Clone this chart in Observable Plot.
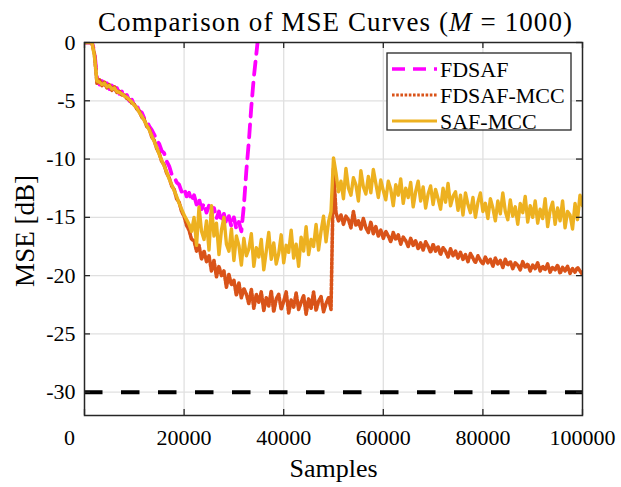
<!DOCTYPE html>
<html>
<head>
<meta charset="utf-8">
<script src="https://cdn.jsdelivr.net/npm/d3@7"></script>
<script src="https://cdn.jsdelivr.net/npm/@observablehq/plot@0.6"></script>
<style>
  html, body { margin: 0; padding: 0; background: white; }
  #chart { width: 621px; height: 487px; }
</style>
</head>
<body>
<div id="chart"></div>
<script>
// ---- Data ----
const titleText = "Comparison of MSE Curves";
const xLabel = "Samples";
const yLabel = "MSE [dB]";
const seriesNames = ["FDSAF", "FDSAF-MCC", "SAF-MCC"];
const seriesColors = ["#FF00FF", "#D95319", "#EDB120"];
const xTicks = [0, 20000, 40000, 60000, 80000, 100000];
const yTicks = [0, -5, -10, -15, -20, -25, -30];
const floorLevel = -30;
const sampleStep = 500;

// FDSAF (magenta, dashed) — samples 0 .. 35000, every 500
const fdsaf = [
  0, 0, 0, 0, -0.8, -3.0, -3.6, -3.3, -3.8, -3.5,
  -4.0, -3.7, -4.2, -3.9, -4.4, -4.2, -4.7, -4.5, -5.0, -4.9,
  -5.4, -5.4, -5.9, -6.0, -6.5, -6.7, -7.2, -7.5, -7.9, -8.4,
  -8.7, -9.3, -9.5, -10.2, -10.6, -11.3, -11.5, -12.0, -12.2, -12.8,
  -12.5, -13.2, -12.9, -13.6, -13.1, -13.9, -13.4, -14.3, -13.8, -14.6,
  -14.0, -14.9, -14.2, -15.1, -14.5, -15.4, -14.7, -15.6, -14.9, -15.8,
  -15.0, -16.0, -15.4, -16.2, -14.0, -11.0, -8.5, -5.5, -3.0, -1.0,
  1.0
];

// FDSAF-MCC (red-orange, dotted) — samples 0 .. 100000, every 500
const fdsafMcc = [
  0, 0, 0, 0, -1.0, -3.5, -3.2, -3.7, -3.4, -3.9,
  -3.6, -4.1, -3.8, -4.3, -4.2, -4.5, -4.5, -4.8, -4.9, -5.2,
  -5.3, -5.7, -5.9, -6.4, -6.6, -7.2, -7.4, -8.1, -8.4, -9.1,
  -9.5, -10.2, -10.5, -11.2, -11.6, -12.3, -12.6, -13.4, -13.7, -14.5,
  -14.9, -15.7, -16.1, -16.9,
  -17.0, -17.9, -17.4, -18.6, -17.9, -18.8, -18.3, -19.6, -18.7, -20.1,
  -19.2, -20.0, -19.6, -21.0, -19.9, -20.8, -20.4, -21.7, -20.6, -21.9,
  -21.1, -21.6, -22.4, -21.2, -22.8, -21.6, -22.3, -21.4, -23.0, -21.9,
  -22.6, -21.3, -23.1, -22.0, -21.6, -22.9, -22.2, -21.4, -23.2, -22.1,
  -22.7, -21.5, -22.9, -22.3, -21.7, -23.3, -22.0, -22.8, -21.4, -23.0,
  -22.2, -21.8, -23.1, -22.4, -21.9, -22.9,
  -10.8,
  -14.6, -15.3, -14.8, -15.6, -14.9, -15.2, -15.9, -14.5, -15.7, -15.3,
  -16.0, -15.1, -15.9, -16.3, -15.4, -16.4, -15.8, -16.6, -16.1, -16.8,
  -16.2, -16.6, -17.1, -16.3, -16.9, -16.5, -17.3, -16.7, -17.0, -17.5,
  -16.8, -17.4, -17.0, -17.7, -17.2, -17.8, -17.1, -17.5, -18.0, -17.3,
  -17.9, -17.5, -18.2, -17.6, -17.9, -18.4, -17.7, -18.3, -17.9, -18.5,
  -18.0, -18.6, -18.2, -18.8, -18.1, -18.5, -18.9, -18.3, -18.7, -19.0,
  -18.4, -18.9, -18.6, -19.2, -18.5, -19.0, -18.7, -19.3, -18.6, -19.1,
  -18.8, -19.4, -18.9, -19.1, -19.5, -18.8, -19.3, -19.0, -19.6, -19.1,
  -19.4, -18.9, -19.6, -19.2, -19.5, -19.0, -19.7, -19.3, -19.5, -19.1,
  -19.8, -19.3, -19.6, -19.2, -19.8, -19.4, -19.7, -19.3, -19.6, -19.9
];

// SAF-MCC (yellow, solid) — samples 0 .. 100000, every 500
const safMcc = [
  0, 0, 0, 0, -1.2, -3.3, -3.4, -3.6, -3.5, -3.8,
  -3.7, -4.0, -3.9, -4.2, -4.3, -4.4, -4.6, -4.7, -4.9, -5.1,
  -5.4, -5.6, -6.0, -6.3, -6.7, -7.1, -7.5, -8.0, -8.5, -9.0,
  -9.6, -10.1, -10.6, -11.1, -11.7, -12.2, -12.7, -13.2, -13.8, -14.3,
  -14.8, -15.2, -15.6, -16.2,
  -15.0, -17.4, -14.1, -16.2, -16.9, -15.3, -17.8, -14.0, -16.6, -15.5,
  -18.2, -16.1, -15.0, -17.3, -17.9, -16.0, -18.7, -16.6, -17.4, -19.1,
  -16.8, -18.3, -17.7, -16.4, -19.2, -17.6, -18.4, -16.9, -19.5, -17.9,
  -16.3, -18.6, -17.2, -19.0, -18.1, -16.5, -18.9, -17.4, -18.0, -16.1,
  -18.5, -17.3, -19.2, -16.7, -17.9, -15.8, -18.2, -16.9, -17.5, -15.6,
  -17.8, -16.2, -14.9, -17.1, -15.4, -14.5,
  -9.9,
  -11.2, -12.8, -11.9, -13.4, -10.8, -12.5, -13.1, -11.6, -12.2, -13.6,
  -11.0, -12.4, -13.0, -11.5, -12.9, -10.9, -12.1, -13.3, -11.8, -12.7,
  -13.5, -11.9, -12.6, -14.0, -12.2, -13.1, -11.7, -13.8, -12.5, -13.3,
  -12.0, -14.1, -12.8, -11.9, -13.6, -12.4, -14.2, -13.0, -12.3, -13.9,
  -12.6, -13.4, -14.3, -12.5, -13.7, -12.1, -14.0, -13.2, -12.8, -14.4,
  -13.1, -14.8, -12.9, -13.9, -14.6, -13.3, -15.0, -13.7, -12.9, -14.5,
  -13.8, -15.1, -13.4, -14.2, -15.3, -13.6, -14.7, -12.9, -14.5, -15.2,
  -13.5, -14.9, -14.1, -15.6, -13.8, -14.6, -13.2, -15.4, -14.0, -15.0,
  -13.6, -15.5, -14.3, -15.1, -13.4, -15.8, -14.4, -13.7, -15.6, -14.2,
  -15.3, -13.6, -15.9, -14.5, -14.8, -16.0, -13.8, -15.2, -13.1, -14.0
];

// ---- Build tidy rows for the library ----
const toRows = (vals, name) => vals.map((v, i) => ({sample: i * sampleStep, mse: v, series: name}));
const rowsFdsaf = toRows(fdsaf, seriesNames[0]);
const rowsFdsafMcc = toRows(fdsafMcc, seriesNames[1]);
const rowsSafMcc = toRows(safMcc, seriesNames[2]);

const W = 621, H = 487;
const mL = 84, mR = 39, mT = 42, mB = 72;
const innerW = W - mL - mR, innerH = H - mT - mB;
const tickLen = 6;
const fmt = d => String(d);
const frameColor = "#262626";

const plot = Plot.plot({
  width: W, height: H,
  marginLeft: mL, marginRight: mR, marginTop: mT, marginBottom: mB,
  style: {fontFamily: "'Liberation Serif', 'Times New Roman', serif", fontSize: "22px", background: "white", color: "#000"},
  x: {domain: [0, 100000]},
  y: {domain: [-32, 0]},
  marks: [
    Plot.gridX(xTicks.filter(d => d > 0 && d < 100000), {stroke: "#e0e0e0", strokeOpacity: 1, strokeWidth: 1.3}),
    Plot.gridY(yTicks.filter(d => d < 0), {stroke: "#e0e0e0", strokeOpacity: 1, strokeWidth: 1.3}),
    Plot.line(rowsFdsaf, {x: "sample", y: "mse", stroke: seriesColors[0], strokeWidth: 3.8, strokeDasharray: "13,8", clip: true}),
    Plot.line(rowsFdsafMcc, {x: "sample", y: "mse", stroke: seriesColors[1], strokeWidth: 3.6, strokeDasharray: "2.6,1.6", clip: true}),
    Plot.line(rowsSafMcc, {x: "sample", y: "mse", stroke: seriesColors[2], strokeWidth: 3.4, clip: true}),
    Plot.ruleY([floorLevel], {stroke: "black", strokeWidth: 4, strokeDasharray: "18.5,18.5"}),
    Plot.frame({stroke: frameColor, strokeWidth: 1.5}),
    // inward ticks (MATLAB style)
    Plot.tickX(xTicks, {x: d => d, insetTop: innerH - tickLen, stroke: frameColor, strokeWidth: 1.3}),
    Plot.tickX(xTicks, {x: d => d, insetBottom: innerH - tickLen, stroke: frameColor, strokeWidth: 1.3}),
    Plot.tickY(yTicks, {y: d => d, insetRight: innerW - tickLen, stroke: frameColor, strokeWidth: 1.3}),
    Plot.tickY(yTicks, {y: d => d, insetLeft: innerW - tickLen, stroke: frameColor, strokeWidth: 1.3}),
    Plot.axisX(xTicks.filter(d => d > 0), {tickSize: 0, tickPadding: 14, tickFormat: fmt, label: null, fontSize: 22}),
    Plot.axisX([0], {tickSize: 0, tickPadding: 14, tickFormat: fmt, label: null, fontSize: 22, dx: -15}),
    Plot.axisY(yTicks, {tickSize: 0, tickPadding: 9, tickFormat: fmt, label: null, fontSize: 22}),
    Plot.text([xLabel], {frameAnchor: "bottom", dy: 53, fontSize: 26, lineAnchor: "middle", textAnchor: "middle"}),
    Plot.text([yLabel], {frameAnchor: "left", dx: -59, dy: 2, rotate: -90, fontSize: 27, lineAnchor: "middle", textAnchor: "middle"})
  ]
});

document.getElementById("chart").appendChild(plot);

const svg = d3.select(plot);
// Title with italic M
const title = svg.append("text")
  .attr("x", 335).attr("y", 31)
  .attr("text-anchor", "middle")
  .attr("font-size", 27)
  .attr("textLength", 474)
  .attr("lengthAdjust", "spacing")
  .attr("fill", "black");
title.append("tspan").text(titleText + " (");
title.append("tspan").attr("font-style", "italic").text("M");
title.append("tspan").text(" = 1000)");

// Legend
const lg = svg.append("g").attr("transform", "translate(387,53)");
lg.append("rect").attr("width", 184).attr("height", 77).attr("fill", "white").attr("stroke", frameColor).attr("stroke-width", 1.3);
const dashes = ["13,8", "2.6,1.6", null];
const widths = [3.5, 3.2, 3.2];
seriesNames.forEach((name, i) => {
  const yy = 16 + i * 26;
  lg.append("line").attr("x1", 5).attr("x2", 50).attr("y1", yy).attr("y2", yy)
    .attr("stroke", seriesColors[i]).attr("stroke-width", widths[i])
    .attr("stroke-dasharray", dashes[i]);
  lg.append("text").attr("x", 53).attr("y", yy).attr("dy", "0.35em")
    .attr("text-anchor", "start")
    .attr("font-size", 22).attr("fill", "black").text(name);
});
</script>
</body>
</html>
